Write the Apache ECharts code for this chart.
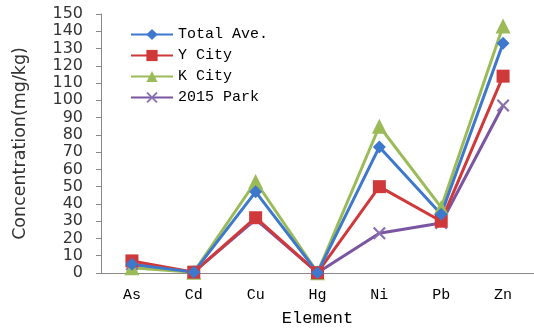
<!DOCTYPE html>
<html>
<head>
<meta charset="utf-8">
<script src="https://cdn.jsdelivr.net/npm/echarts@6/dist/echarts.min.js"></script>
<style>
html, body { margin: 0; padding: 0; background: #fff; }
#chart { width: 534px; height: 328px; }
</style>
</head>
<body>
<div id="chart"></div>
<script>
const elements = ['As', 'Cd', 'Cu', 'Hg', 'Ni', 'Pb', 'Zn']
const totalAve = [5, 0.5, 47, 0.2, 73, 34, 133]
const yCity = [7, 0.5, 32, 0.2, 50, 30, 114]
const kCity = [3, 0.5, 53, 0.2, 85, 38, 143]
const park2015 = [5, 0.5, 31, 0.2, 23, 29, 97]

const sans = 'DejaVu Sans'
const serif = 'Liberation Mono'
const xMark = 'path://M0,1.2L1.2,0L5,3.8L8.8,0L10,1.2L6.2,5L10,8.8L8.8,10L5,6.2L1.2,10L0,8.8L3.8,5Z'

const chart = echarts.init(document.getElementById('chart'))

function line(name, data, color, symbol, size, symColor) {
	return {
		type: 'line',
		name: name,
		data: data,
		symbol: symbol,
		symbolSize: size,
		lineStyle: { color: color, width: 3 },
		itemStyle: { color: symColor || color },
		emphasis: { disabled: true }
	}
}

chart.setOption({
	animation: false,
	grid: { left: 101, right: 0, top: 14, bottom: 55, containLabel: false, outerBoundsMode: 'none' },
	legend: {
		orient: 'vertical',
		left: 125,
		top: 22,
		itemWidth: 42,
		itemHeight: 14,
		itemGap: 6,
		textStyle: { fontFamily: serif, fontSize: 15, color: '#000' },
		data: ['Total Ave.', 'Y City', 'K City', '2015 Park']
	},
	xAxis: {
		type: 'category',
		data: elements,
		name: 'Element',
		nameLocation: 'middle',
		nameGap: 37,
		nameTextStyle: { fontFamily: serif, fontSize: 17, color: '#000' },
		axisLine: { lineStyle: { color: '#888', width: 1 } },
		axisTick: { lineStyle: { color: '#888' }, length: 5 },
		axisLabel: { fontFamily: serif, fontSize: 15, color: '#000', margin: 15 }
	},
	yAxis: {
		type: 'value',
		min: 0,
		max: 150,
		interval: 10,
		name: 'Concentration(mg/kg)',
		nameLocation: 'middle',
		nameGap: 72,
		nameTextStyle: { fontFamily: sans, fontSize: 17.5, color: '#333' },
		axisLine: { show: true, lineStyle: { color: '#888', width: 1 } },
		axisTick: { show: true, lineStyle: { color: '#888' }, length: 5 },
		splitLine: { show: false },
		axisLabel: { fontFamily: sans, fontSize: 16, color: '#333', margin: 18 }
	},
	series: [
		line('2015 Park', park2015, '#7a55a0', xMark, 13, '#8a70b0'),
		line('K City', kCity, '#9bbb59', 'triangle', 15),
		line('Y City', yCity, '#d0393a', 'rect', 13),
		line('Total Ave.', totalAve, '#3d78cc', 'diamond', 13)
	]
})
</script>
</body>
</html>
